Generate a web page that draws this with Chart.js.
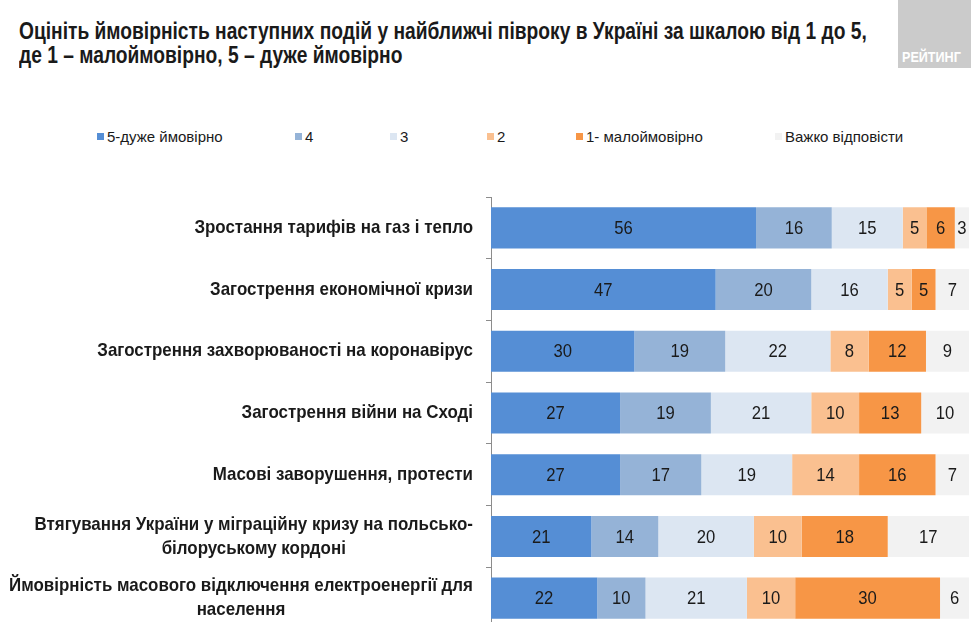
<!DOCTYPE html>
<html>
<head>
<meta charset="utf-8">
<script src="https://cdn.jsdelivr.net/npm/chart.js@4.4.1/dist/chart.umd.min.js"></script>
<style>
  html, body { margin: 0; padding: 0; background: #fff; overflow: hidden; }
  body { width: 971px; height: 622px; position: relative; font-family: 'Liberation Sans', Arial, sans-serif; }
  #title { position: absolute; left: 19px; top: 19px; font-size: 23px; line-height: 24px; font-weight: bold; color: #1a1a1a; white-space: nowrap; transform: scaleX(0.835); transform-origin: 0 0; }
  #logo { position: absolute; right: 0; top: 0; width: 73px; height: 68px; background: #cbcbcb; }
  #logo span { position: absolute; left: 4px; top: 49px; color: #fff; font-weight: bold; font-size: 14px; line-height: 16px; white-space: nowrap; transform: scaleX(0.9); transform-origin: 0 0; }
  #legend { position: absolute; left: 97px; top: 127px; height: 18px; display: flex; align-items: center; font-size: 15px; color: #1a1a1a; white-space: nowrap; }
  .li { display: flex; align-items: center; }
  .sw { width: 7px; height: 7px; margin-right: 3px; flex: none; }
  #wrap { position: absolute; left: 0; top: 0; width: 971px; height: 700px; }
</style>
</head>
<body>
<div id="title">Оцініть ймовірність наступних подій у найближчі півроку в Україні за шкалою від 1 до 5,<br>де 1 – малоймовірно, 5 – дуже ймовірно</div>
<div id="logo"><span>РЕЙТИНГ</span></div>
<div id="legend"></div>
<div id="wrap"><canvas id="c"></canvas></div>
<script>
// ---- data ----
const categories = [
  ["Зростання тарифів на газ і тепло"],
  ["Загострення економічної кризи"],
  ["Загострення захворюваності на коронавірус"],
  ["Загострення війни на Сході"],
  ["Масові заворушення, протести"],
  ["Втягування України у міграційну кризу на польсько-", "білоруському кордоні"],
  ["Ймовірність масового відключення електроенергії для", "населення"]
];
const seriesNames = ["5-дуже ймовірно", "4", "3", "2", "1- малоймовірно", "Важко відповісти"];
const veryLikely   = [56, 47, 30, 27, 27, 21, 22];
const score4       = [16, 20, 19, 19, 17, 14, 10];
const score3       = [15, 16, 22, 21, 19, 20, 21];
const score2       = [5, 5, 8, 10, 14, 10, 10];
const unlikely     = [6, 5, 12, 13, 16, 18, 30];
const hardToSay    = [3, 7, 9, 10, 7, 17, 6];

// ---- styles ----
const seriesColors = ["#558ed5", "#95b3d7", "#dce6f2", "#fac090", "#f79646", "#f2f2f2"];
const legendWidths = [198, 95, 97, 89, 199, 130];
const FONT = "'Liberation Sans', Arial, sans-serif";

const allSeries = [veryLikely, score4, score3, score2, unlikely, hardToSay];
const rowTotals = categories.map((_, i) => allSeries.reduce((s, arr) => s + arr[i], 0));

// legend (HTML)
const legendEl = document.getElementById('legend');
seriesNames.forEach((name, k) => {
  const it = document.createElement('div');
  it.className = 'li';
  it.style.width = legendWidths[k] + 'px';
  const sw = document.createElement('span');
  sw.className = 'sw';
  sw.style.background = seriesColors[k];
  const tx = document.createElement('span');
  tx.textContent = name;
  it.appendChild(sw); it.appendChild(tx);
  legendEl.appendChild(it);
});

const datasets = allSeries.map((arr, k) => ({
  label: seriesNames[k],
  raw: arr,
  data: arr.map((v, i) => v / rowTotals[i] * 100),
  backgroundColor: seriesColors[k],
  borderWidth: 0,
  barPercentage: 0.665,
  categoryPercentage: 1
}));

function squeezedText(ctx, text, x, y, sx) {
  ctx.save();
  ctx.translate(x, y);
  ctx.scale(sx, 1);
  ctx.fillText(text, 0, 0);
  ctx.restore();
}

const valueLabels = {
  id: 'valueLabels',
  afterDatasetsDraw(chart) {
    const ctx = chart.ctx;
    ctx.save();
    ctx.font = '18.5px ' + FONT;
    ctx.fillStyle = '#1a1a1a';
    ctx.textAlign = 'center';
    ctx.textBaseline = 'middle';
    chart.data.datasets.forEach((ds, d) => {
      const meta = chart.getDatasetMeta(d);
      meta.data.forEach((bar, i) => {
        const v = ds.raw[i];
        if (!v) return;
        squeezedText(ctx, String(v), (bar.x + bar.base) / 2, bar.y + 1, 0.9);
      });
    });
    ctx.restore();
  }
};

const categoryLabels = {
  id: 'categoryLabels',
  afterDraw(chart) {
    const ctx = chart.ctx;
    const ys = chart.scales.y;
    const right = chart.chartArea.left - 18;
    const lh = 24;
    const sx = 0.915;
    ctx.save();
    ctx.font = 'bold 18.5px ' + FONT;
    ctx.fillStyle = '#1a1a1a';
    ctx.textAlign = 'center';
    ctx.textBaseline = 'middle';
    categories.forEach((lines, i) => {
      const y = ys.getPixelForValue(i);
      const w = Math.max(...lines.map(l => ctx.measureText(l).width)) * sx;
      const cx = right - w / 2;
      const y0 = y - (lines.length - 1) * lh / 2;
      lines.forEach((l, j) => squeezedText(ctx, l, cx, y0 + j * lh, sx));
    });
    ctx.restore();
  }
};

new Chart(document.getElementById('c'), {
  type: 'bar',
  data: { labels: categories.map(c => c.join(' ')), datasets },
  options: {
    indexAxis: 'y',
    responsive: true,
    maintainAspectRatio: false,
    animation: false,
    layout: { padding: { left: 486, right: 2, top: 197, bottom: 71 } },
    plugins: { legend: { display: false }, tooltip: { enabled: false }, title: { display: false } },
    scales: {
      x: { stacked: true, min: 0, max: 100, display: false },
      y: {
        stacked: true,
        ticks: { display: false },
        grid: { display: true, drawOnChartArea: false, drawTicks: true, tickLength: 5, color: '#8c8c8c', offset: true },
        border: { display: true, color: '#8c8c8c', width: 1 }
      }
    }
  },
  plugins: [valueLabels, categoryLabels]
});
</script>
</body>
</html>
